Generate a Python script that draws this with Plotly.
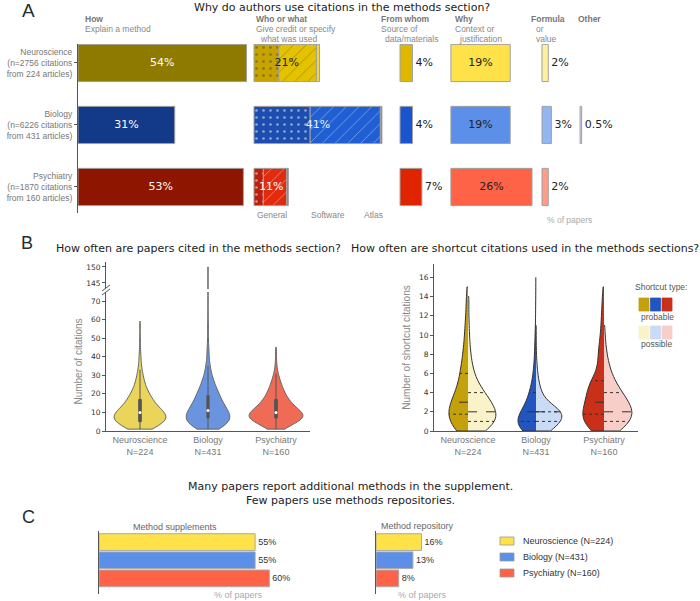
import numpy as np
import plotly.graph_objects as go

W, H = 700, 601
DF = 'DejaVu Sans'
SF = 'Liberation Sans'

# ---------------- Panel A: why are methods citations used ----------------
fields = ['Neuroscience', 'Biology', 'Psychiatry']
n_citations = [2756, 6226, 1870]
n_articles = [224, 431, 160]

how = [54, 31, 53]
who_general = [8, 18, 3]
who_software = [12, 22.5, 7.5]
who_atlas = [1, 0.5, 0.5]
who_total = [21, 41, 11]
from_whom = [4, 4, 7]
why = [19, 19, 26]
formula = [2, 3, 2]
other = [None, 0.5, None]
other_labels = ['', '0.5%', '']

# ---------------- Panel B: citations per paper (value, count) ----------------
neuro_cite_values = [1, 3, 5, 7, 9, 11, 13, 15, 17, 19, 21, 23, 25, 27, 29, 31, 33, 36, 40, 44, 50, 59]
neuro_cite_counts = [13, 18, 26, 28, 27, 21, 17, 14, 12, 10, 8, 6, 5, 4, 3, 3, 2, 2, 2, 1, 1, 1]
bio_cite_values = [1, 3, 5, 7, 9, 11, 13, 15, 17, 19, 21, 23, 25, 27, 29, 31, 33, 35, 38, 42, 46, 52, 58, 65, 73, 150]
bio_cite_counts = [24, 34, 42, 44, 42, 37, 32, 28, 25, 22, 19, 16, 13, 11, 8, 6, 5, 5, 4, 4, 3, 2, 2, 1, 1, 1]
psych_cite_values = [1, 3, 5, 7, 9, 11, 13, 15, 17, 19, 21, 23, 25, 27, 29, 31, 34, 38, 45]
psych_cite_counts = [5, 10, 16, 23, 26, 14, 14, 11, 9, 7, 6, 5, 4, 3, 2, 2, 1, 1, 1]

# shortcut citations per paper: counts for 0, 1, 2, ... shortcuts
neuro_probable = [22, 34, 36, 30, 22, 16, 14, 11, 9, 7, 6, 5, 4, 3, 3, 2]
neuro_possible = [30, 45, 45, 35, 25, 14, 9, 6, 4, 3, 2, 2, 1, 1, 2]
bio_probable = [80, 110, 80, 50, 35, 22, 15, 10, 8, 6, 5, 3, 2, 2, 1, 1, 1]
bio_possible = [70, 120, 140, 45, 25, 14, 8, 4, 2, 1, 1, 1]
psych_probable = [14, 26, 24, 20, 18, 18, 7, 6, 7, 5, 4, 3, 3, 2, 2, 1]
psych_possible = [18, 30, 34, 26, 20, 12, 8, 5, 3, 2, 1, 1]

# ---------------- Panel C ----------------
supplement_pct = [55, 55, 60]
repository_pct = [16, 13, 8]

# ---------------- colours ----------------
c_how = ['#8f7a00', '#123a88', '#8e1600']
c_general = ['#c6a300', '#1d4dae', '#bd1f0d']
c_software = ['#e5c200', '#1f5fd3', '#e22a0e']
c_atlas = ['#f0d640', '#4a7fe0', '#e85a40']
c_from = ['#e0b700', '#1a55cf', '#e02400']
c_why = ['#ffe24a', '#5b8fe8', '#ff6347']
c_formula = ['#fff0a0', '#93b5f2', '#ff9c8a']
c_other = ['#fff8d0', '#c8d3e8', '#ffd0c8']
c_violin = ['#ead55a', '#6a95de', '#ef6b55']
c_prob = ['#c4a00a', '#2255c0', '#c8301a']
c_poss = ['#faf2c8', '#c9dbf5', '#f8cfc8']
EDGE = '#a0a0a0'

fig = go.Figure()

# column start positions (x units, % of papers) in panel A
off_how, off_who, off_from, off_why, off_formula, off_other = 0, 56.4, 103.2, 119.5, 148.7, 160.9


def pct(vals):
    return [f'{v:g}%' for v in vals]


def abar(x, base, colors, text=None, tpos='inside', tcolor='#222', pattern=None, line=True):
    marker = dict(color=colors, line=dict(color=EDGE if line else 'rgba(0,0,0,0)', width=1 if line else 0))
    if pattern:
        marker['pattern'] = dict(fillmode='overlay', **pattern)
    fig.add_trace(go.Bar(
        y=fields, x=x, base=base, orientation='h', width=0.6, marker=marker,
        text=text, textposition=tpos if text is not None else 'none', insidetextanchor='middle',
        textfont=dict(color=tcolor, size=11, family=DF), cliponaxis=False,
        xaxis='x', yaxis='y', showlegend=False, hoverinfo='skip'))


abar(how, off_how, c_how, pct(how), tcolor='white')
gen_base = np.full(3, off_who)
abar(who_general, gen_base, c_general,
     pattern=dict(shape='.', fgcolor='#a0a0a0', size=7, solidity=0.12))
sw_base = gen_base + np.array(who_general)
abar(who_software, sw_base, c_software,
     pattern=dict(shape='/', fgcolor='#b0b0b0', size=9, solidity=0.08))
abar(who_atlas, sw_base + np.array(who_software), c_atlas)
abar(who_total, gen_base, 'rgba(0,0,0,0)', pct(who_total), tcolor=['#222', '#eeeeee', 'white'], line=False)
abar(from_whom, off_from, c_from, pct(from_whom), tpos='outside')
abar(why, off_why, c_why, pct(why))
abar(formula, off_formula, c_formula, pct(formula), tpos='outside')
abar(other, off_other, c_other, other_labels, tpos='outside')


# ---------------- Panel B left: violins with broken axis ----------------
cite_sets = [(neuro_cite_values, neuro_cite_counts), (bio_cite_values, bio_cite_counts),
             (psych_cite_values, psych_cite_counts)]
cite_width = [0.76, 0.64, 0.79]
for i, (vals, cnts) in enumerate(cite_sets):
    d = np.repeat(vals, cnts)
    for xa, ya in [('x2', 'y2'), ('x3', 'y3')]:
        fig.add_trace(go.Violin(
            x=np.full(len(d), i), y=d, xaxis=xa, yaxis=ya, width=cite_width[i], bandwidth=3,
            spanmode='hard', fillcolor=c_violin[i], line=dict(color='#666', width=1),
            box=dict(visible=True, width=0.05, fillcolor='#555', line=dict(color='#555', width=1)),
            meanline_visible=False, points=False, hoverinfo='skip', showlegend=False))
    fig.add_trace(go.Scatter(x=[i], y=[np.median(d)], mode='markers', xaxis='x2', yaxis='y2',
                             marker=dict(color='white', size=3), hoverinfo='skip', showlegend=False))


# ---------------- Panel B right: split violins ----------------
def kde_half(data, ys, bw, width):
    grid = np.linspace(data.min(), data.max(), 400)
    k = lambda t: np.exp(-0.5 * ((np.asarray(t)[:, None] - data[None, :]) / bw) ** 2).sum(1)
    return width / 2 * k(ys) / k(grid).max()


shortcut_sets = [(neuro_probable, neuro_possible), (bio_probable, bio_possible),
                 (psych_probable, psych_possible)]
prob_width = [0.56, 0.53, 0.62]
poss_width = [0.82, 0.76, 0.82]
sc_bw = [1.0, 0.8, 1.0]
for i, (cp, cq) in enumerate(shortcut_sets):
    for cnts, side, col, w in [(cp, 'negative', c_prob[i], prob_width[i]),
                               (cq, 'positive', c_poss[i], poss_width[i])]:
        d = np.repeat(np.arange(len(cnts)), cnts)
        fig.add_trace(go.Violin(
            x=np.full(len(d), i), y=d, xaxis='x4', yaxis='y4', side=side, width=w,
            bandwidth=sc_bw[i], spanmode='hard', fillcolor=col, line=dict(color='#333', width=1),
            points=False, meanline_visible=False, hoverinfo='skip', showlegend=False))
        qs = np.percentile(d, [25, 50, 75])
        hw = kde_half(d.astype(float), qs, sc_bw[i], w)
        sign = -1 if side == 'negative' else 1
        for q, h, dash in zip(qs, hw, ['dot', 'dash', 'dot']):
            fig.add_trace(go.Scatter(
                x=[i, i + sign * h], y=[q, q], mode='lines', xaxis='x4', yaxis='y4',
                line=dict(color='#333', width=1, dash=dash), hoverinfo='skip', showlegend=False))

# ---------------- Panel C ----------------
for i, f in enumerate(fields):
    for vals, xa, ya in [(supplement_pct, 'x5', 'y5'), (repository_pct, 'x6', 'y6')]:
        fig.add_trace(go.Bar(
            y=[f], x=[vals[i]], orientation='h', width=0.92, xaxis=xa, yaxis=ya,
            marker=dict(color=c_why[i], line=dict(color='#aaaaaa', width=1)),
            text=[f'{vals[i]}%'], textposition='outside', cliponaxis=False,
            textfont=dict(size=9, color='#333', family=SF),
            name=f'{f} (N={n_articles[i]})', showlegend=False, hoverinfo='skip'))


def dom_x(a, b):
    return [a / W, b / W]


def dom_y(top, bottom):
    return [1 - bottom / H, 1 - top / H]


tick_small = dict(size=7.5, color='#333', family=DF)
gray_lbl = dict(size=9, color='#777', family=SF)
ax_line = dict(showline=True, linecolor='#555', linewidth=1, showgrid=False, zeroline=False,
               automargin=False)

violin_ticks = [f'{f}<br>N={n}' for f, n in zip(fields, n_articles)]

fig.update_layout(
    template='none',
    width=W, height=H, margin=dict(l=0, r=0, t=0, b=0, autoexpand=False),
    paper_bgcolor='white', plot_bgcolor='white',
    barmode='overlay', violinmode='overlay', violingap=0,
    font=dict(family=DF, color='#333'),
    xaxis=dict(domain=dom_x(78, 640), range=[0, 180.1], visible=False, anchor='y', automargin=False),
    yaxis=dict(domain=dom_y(44, 213), type='category', categoryorder='array', categoryarray=fields,
               range=[2.42, -0.306], anchor='x', ticks='outside', ticklen=3, tickcolor='#555',
               tickmode='array', tickvals=fields,
               ticktext=[f'{f}<br>(n={c} citations<br>from {a} articles)'
                         for f, c, a in zip(fields, n_citations, n_articles)],
               tickfont=dict(size=8.5, color='#777', family=SF), **ax_line),
    xaxis2=dict(domain=dom_x(106, 310), range=[-0.5, 2.5], anchor='y2', tickmode='array',
                tickvals=[0, 1, 2], ticktext=violin_ticks, tickfont=gray_lbl, ticks='', **ax_line),
    yaxis2=dict(domain=dom_y(292, 431), range=[0, 74.85], anchor='x2', dtick=10, ticks='outside',
                ticklen=3, tickcolor='#555', tickfont=tick_small,
                title=dict(text='Number of citations', font=dict(size=10, color='#888', family=SF),
                           standoff=6), **ax_line),
    xaxis3=dict(domain=dom_x(106, 310), range=[-0.5, 2.5], anchor='y3', visible=False, matches='x2',
                automargin=False),
    yaxis3=dict(domain=dom_y(262, 289), range=[143.1, 151.56], anchor='x3', tickvals=[145, 150],
                ticks='outside', ticklen=3, tickcolor='#555', tickfont=tick_small, **ax_line),
    xaxis4=dict(domain=dom_x(434, 638), range=[-0.5, 2.5], anchor='y4', tickmode='array',
                tickvals=[0, 1, 2], ticktext=violin_ticks, tickfont=gray_lbl, ticks='', **ax_line),
    yaxis4=dict(domain=dom_y(264, 431), range=[0, 17.4], anchor='x4', dtick=2, ticks='outside',
                ticklen=3, tickcolor='#555', tickfont=tick_small,
                title=dict(text='Number of shortcut citations', font=dict(size=10, color='#888', family=SF),
                           standoff=6), **ax_line),
    xaxis5=dict(domain=dom_x(99, 300), range=[0, 70.8], anchor='y5', visible=False, automargin=False),
    yaxis5=dict(domain=dom_y(531, 594), type='category', categoryorder='array', categoryarray=fields,
                range=[2.86, -0.61], anchor='x5', showticklabels=False, ticks='', **ax_line),
    xaxis6=dict(domain=dom_x(376, 480), range=[0, 36.6], anchor='y6', visible=False, automargin=False),
    yaxis6=dict(domain=dom_y(531, 594), type='category', categoryorder='array', categoryarray=fields,
                range=[2.86, -0.61], anchor='x6', showticklabels=False, ticks='', **ax_line),
    showlegend=False,
)


def ann(x, y, text, size=9, color='#777', family=SF, xanchor='left', bold=False):
    if bold:
        text = f'<b>{text}</b>'
    fig.add_annotation(x=x / W, y=1 - y / H, xref='paper', yref='paper', text=text, showarrow=False,
                       xanchor=xanchor, yanchor='middle', font=dict(size=size, color=color, family=family))


def rect(x0, y0, x1, y1, col, edge):
    fig.add_shape(type='rect', xref='paper', yref='paper', x0=x0 / W, x1=x1 / W,
                  y0=1 - y1 / H, y1=1 - y0 / H, fillcolor=col, line=dict(color=edge, width=0.8))


# panel letters and titles
ann(28, 11, 'A', size=19, color='#1f2f2f', xanchor='center')
ann(27, 243, 'B', size=18, color='#1f2f2f', xanchor='center')
ann(28, 517, 'C', size=18, color='#1f2f2f', xanchor='center')
ann(342, 8, 'Why do authors use citations in the methods section?', size=11, color='#222',
    family=DF, xanchor='center')
ann(54, 248, 'How often are papers cited in the methods section?', size=11, color='#222', family=DF)
ann(349, 248, 'How often are shortcut citations used in the methods sections?', size=11,
    color='#222', family=DF)
ann(350, 493, 'Many papers report additional methods in the supplement.<br>Few papers use methods repositories.',
    size=11, color='#222', family=DF, xanchor='center')

# panel A column headers
headers = [(83, 19, 'How', True), (83, 29, 'Explain a method', False),
           (254, 19, 'Who or what', True), (254, 29, 'Give credit or specify', False),
           (258, 39, 'what was used', False),
           (379, 19, 'From whom', True), (379, 29, 'Source of', False), (383, 39, 'data/materials', False),
           (453, 19, 'Why', True), (453, 29, 'Context or', False), (457, 39, 'justification', False),
           (529, 19, 'Formula', True), (534, 29, 'or', False), (534, 39, 'value', False),
           (576, 19, 'Other', True)]
for x, y, t, b in headers:
    ann(x, y, t, size=8.5, color='#777' if b else '#888', bold=b)
for x, t in [(255, 'General'), (309, 'Software'), (362, 'Atlas')]:
    ann(x, 215, t, size=8.5, color='#888')
ann(545, 220, '% of papers', size=8.5, color='#aaa')

# panel C labels and legend
ann(175, 527, 'Method supplements', size=9, color='#666', xanchor='center')
ann(417, 526, 'Method repository', size=9, color='#666', xanchor='center')
ann(238, 595, '% of papers', size=9, color='#aaa', xanchor='center')
ann(422, 595, '% of papers', size=9, color='#aaa', xanchor='center')
for i, f in enumerate(fields):
    yc = 541 + 16 * i
    rect(500, yc - 4, 514, yc + 4, c_why[i], '#999')
    ann(521, yc, f'{f} (N={n_articles[i]})', size=9, color='#333')

# shortcut type legend
ann(633, 287, 'Shortcut type:', size=8.5, color='#555')
ann(639, 317, 'probable', size=8.5, color='#555')
ann(639, 344, 'possible', size=8.5, color='#555')
for i in range(3):
    x0 = 639 + i * 11.5
    rect(x0, 298, x0 + 10, 311, c_prob[i], c_prob[i])
    rect(x0, 326, x0 + 10, 339, c_poss[i], c_poss[i])

# axis break marks
for dy in (0, 4):
    fig.add_shape(type='line', xref='paper', yref='paper', x0=102 / W, x1=110 / W,
                  y0=1 - (291 + dy) / H, y1=1 - (285 + dy) / H, line=dict(color='#555', width=1))

fig.write_html('out.html', config={'displayModeBar': False},
               post_script="document.body.style.margin='0';document.body.style.overflow='hidden';")
